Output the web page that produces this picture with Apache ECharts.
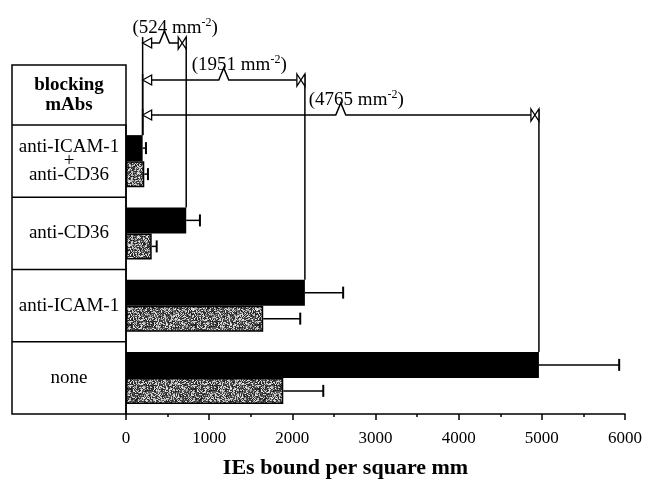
<!DOCTYPE html>
<html lang="en" style="height: 100%">
<head>
    <meta charset="utf-8">
    <script src="https://cdn.jsdelivr.net/npm/echarts@6/dist/echarts.min.js"></script>
</head>
<body style="height: 100%; margin: 0; background: #fff">
<div id="main" style="width: 647px; height: 479px"></div>
<script type="text/javascript">
    // data
    var categories = ['anti-ICAM-1\n+\nanti-CD36', 'anti-CD36', 'anti-ICAM-1', 'none'];
    var blackVals = [200, 724, 2151, 4965];
    var blackErr = [40, 165, 460, 965];
    var grayVals = [220, 309, 1650, 1891];
    var grayErr = [44, 60, 445, 481];
    var xTicks = [0, 1000, 2000, 3000, 4000, 5000, 6000];
    // differences written above the chart: [to category, label]
    var bracketCats = [1, 2, 3];
    var bracketLabels = ['524', '1951', '4765'];

    var FONT = 'Liberation Serif';
    var BAR_W = 26;
    var bracketY = [43, 80, 115];   // pixel level of each bracket line

    // stippled grey fill, deterministic noise
    function hash(x, y) {
        var n = Math.imul(x, 374761393) + Math.imul(y, 668265263);
        n = Math.imul(n ^ (n >>> 13), 1274126177);
        n = n ^ (n >>> 16);
        return (n >>> 0) / 4294967296;
    }
    var pat = document.createElement('canvas');
    pat.width = 64; pat.height = 64;
    var pctx = pat.getContext('2d');
    var img = pctx.createImageData(64, 64);
    for (var py = 0; py < 64; py++) {
        for (var px = 0; px < 64; px++) {
            var r = hash(px, py);
            var c = r < 0.6 ? 20 + r * 140 : 160 + (r - 0.6) * 200;
            var k = (py * 64 + px) * 4;
            img.data[k] = img.data[k + 1] = img.data[k + 2] = c;
            img.data[k + 3] = 255;
        }
    }
    pctx.putImageData(img, 0, 0);

    var errData = [];
    for (var i = 0; i < categories.length; i++) {
        errData.push([blackVals[i], i, blackErr[i], -1]);
        errData.push([grayVals[i], i, grayErr[i], 1]);
    }
    var bracketData = bracketCats.map(function (c, i) {
        return [blackVals[0], blackVals[c], c, i];
    });

    var chart = echarts.init(document.getElementById('main'));

    function renderErr(params, api) {
        var v = api.value(0), cat = api.value(1), err = api.value(2), side = api.value(3);
        var p = api.coord([v, cat]);
        var pe = api.coord([v + err, cat]);
        var y = p[1] + side * BAR_W / 2;
        return {
            type: 'group',
            children: [
                {type: 'line', shape: {x1: p[0], y1: y, x2: pe[0], y2: y}, style: {stroke: '#000', lineWidth: 1.5}},
                {type: 'line', shape: {x1: pe[0], y1: y - 6, x2: pe[0], y2: y + 6}, style: {stroke: '#000', lineWidth: 2}}
            ]
        };
    }

    function renderBracket(params, api) {
        var from = api.value(0), to = api.value(1), cat = api.value(2), idx = api.value(3);
        var lvl = bracketY[idx];
        var p1 = api.coord([from, 0]);
        var p2 = api.coord([to, cat]);
        var x1 = p1[0], x2 = p2[0];
        var top1 = p1[1] - BAR_W, top2 = p2[1] - BAR_W;
        var xm = (x1 + x2) / 2;
        var st = {stroke: '#000', lineWidth: 1.5, fill: null};
        var open = {stroke: '#000', lineWidth: 1.3, fill: '#fff'};
        return {
            type: 'group',
            children: [
                {type: 'line', shape: {x1: x1, y1: lvl - 6, x2: x1, y2: top1}, style: st},
                {type: 'line', shape: {x1: x2, y1: lvl - 6, x2: x2, y2: top2}, style: st},
                {type: 'polyline', shape: {points: [[x1 + 9, lvl], [xm - 5, lvl], [xm, lvl - 12], [xm + 5, lvl], [x2 - 8, lvl]]}, style: st},
                {type: 'polygon', shape: {points: [[x1, lvl], [x1 + 9, lvl - 5], [x1 + 9, lvl + 5]]}, style: open},
                {type: 'polygon', shape: {points: [[x2 - 8, lvl - 6], [x2, lvl + 6], [x2, lvl - 6], [x2 - 8, lvl + 6]]}, style: open},
                {
                    type: 'text', x: xm - 32, y: lvl - 15,
                    style: {
                        text: '(' + bracketLabels[idx] + ' mm{sup|-2})',
                        fill: '#000', fontFamily: FONT, fontSize: 19,
                        align: 'left', verticalAlign: 'middle',
                        rich: {sup: {fontSize: 12, fontFamily: FONT, fill: '#000', verticalAlign: 'top', padding: [0, 0, 10, 0]}}
                    }
                }
            ]
        };
    }

    chart.setOption({
        animation: false,
        grid: {left: 126, right: 22, top: 125, bottom: 65, outerBoundsMode: 'none'},
        graphic: [
            // table of blocking mAbs on the left
            {type: 'rect', shape: {x: 12, y: 65, width: 114, height: 349}, style: {fill: null, stroke: '#000', lineWidth: 1.5}},
            {type: 'line', shape: {x1: 12, y1: 125, x2: 126, y2: 125}, style: {stroke: '#000', lineWidth: 1.5}},
            {type: 'line', shape: {x1: 12, y1: 197.25, x2: 126, y2: 197.25}, style: {stroke: '#000', lineWidth: 1.5}},
            {type: 'line', shape: {x1: 12, y1: 269.5, x2: 126, y2: 269.5}, style: {stroke: '#000', lineWidth: 1.5}},
            {type: 'line', shape: {x1: 12, y1: 341.75, x2: 126, y2: 341.75}, style: {stroke: '#000', lineWidth: 1.5}},
            {
                type: 'text', x: 69, y: 95,
                style: {text: 'blocking\nmAbs', fill: '#000', fontFamily: FONT, fontWeight: 'bold', fontSize: 19,
                    lineHeight: 20, align: 'center', verticalAlign: 'middle'}
            }
        ],
        xAxis: {
            type: 'value', min: 0, max: 6000, interval: 1000,
            axisLine: {show: true, lineStyle: {color: '#000', width: 1.5}},
            axisTick: {show: true, length: 6, lineStyle: {color: '#000', width: 1.5}},
            minorTick: {show: true, splitNumber: 2, length: 3, lineStyle: {color: '#000', width: 1.5}},
            splitLine: {show: false},
            axisLabel: {fontFamily: FONT, fontSize: 17, color: '#000', margin: 16,
                formatter: function (v) { return xTicks.indexOf(v) >= 0 ? String(v) : ''; }},
            name: 'IEs bound per square mm',
            nameLocation: 'middle', nameGap: 43,
            nameTextStyle: {fontFamily: FONT, fontWeight: 'bold', fontSize: 22, color: '#000', padding: [0, 60, 0, 0]}
        },
        yAxis: {
            type: 'category', data: categories, inverse: true,
            axisLine: {show: true, lineStyle: {color: '#000', width: 1.5}},
            axisTick: {show: false},
            axisLabel: {
                fontFamily: FONT, fontSize: 19, color: '#000', margin: 57, align: 'center',
                formatter: function (v) {
                    return v.indexOf('\n') >= 0
                        ? v.split('\n').map(function (s) { return '{t|' + s + '}'; }).join('\n')
                        : v;
                },
                rich: {t: {fontFamily: FONT, fontSize: 19, color: '#000', lineHeight: 14}}
            }
        },
        series: [
            {type: 'bar', data: blackVals, barWidth: BAR_W, barGap: '0%', itemStyle: {color: '#000'}},
            {type: 'bar', data: grayVals, barWidth: BAR_W, barGap: '0%',
                itemStyle: {color: {image: pat, repeat: 'repeat'}, borderColor: '#000', borderWidth: 1.5}},
            {type: 'custom', data: errData, renderItem: renderErr, clip: false, z: 5,
                encode: {x: 0, y: 1}},
            {type: 'custom', data: bracketData, renderItem: renderBracket, clip: false, z: 6,
                encode: {x: [0, 1], y: 2}}
        ]
    });
</script>
</body>
</html>
